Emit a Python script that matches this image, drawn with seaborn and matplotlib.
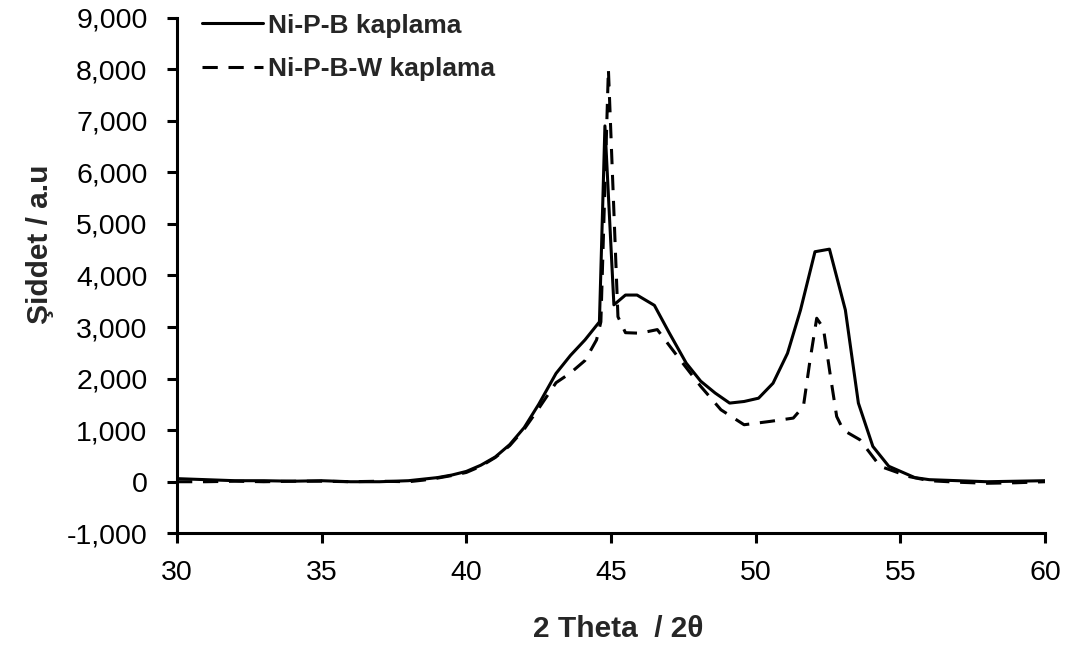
import matplotlib
matplotlib.use("Agg")
import matplotlib.pyplot as plt
import matplotlib.ticker as mticker
import numpy as np
import pandas as pd
import seaborn as sns

# ---- data ----
x_nipb = [30, 31, 32, 33, 34, 35, 36, 37, 38, 38.5, 39, 39.5, 40, 40.5, 41, 41.5, 42, 42.5,
          43.1, 43.6, 44.1, 44.6, 44.79, 45.1, 45.5, 45.9, 46.5, 47.0, 47.6, 48.1, 48.6,
          49.1, 49.6, 50.1, 50.6, 51.1, 51.55, 52.05, 52.55, 53.1, 53.55, 54.05, 54.6,
          55.5, 56, 57, 58, 59, 60]
y_nipb = [60, 40, 20, 20, 10, 20, 0, 0, 20, 50, 80, 130, 200, 320, 480, 720, 1050, 1500,
          2100, 2450, 2750, 3100, 6900, 3430, 3620, 3620, 3420, 2900, 2300, 1950, 1720,
          1525, 1556, 1620, 1910, 2490, 3330, 4460, 4510, 3330, 1525, 685, 300,
          80, 40, 20, 0, 10, 20]

x_nipbw = [30, 31, 32, 33, 34, 35, 36, 37, 38, 38.5, 39, 39.5, 40, 40.5, 41, 41.5, 42, 42.5,
           43.1, 43.6, 44.1, 44.5, 44.65, 44.91, 45.24, 45.5, 46.0, 46.6, 47.3, 48.1, 48.8,
           49.6, 50.5, 51.3, 51.65, 51.88, 52.11, 52.34, 52.57, 52.8, 53.03, 53.6, 54.3,
           55.3, 56, 57, 58, 59, 60]
y_nipbw = [0, 0, 10, 0, 10, 10, 0, 10, 0, 30, 70, 120, 180, 300, 470, 700, 1020, 1420,
           1920, 2110, 2350, 2750, 3100, 8000, 3200, 2890, 2880, 2950, 2430, 1850, 1395,
           1105, 1170, 1234, 1460, 2360, 3170, 2980, 2100, 1265, 1000, 815, 300,
           100, 20, -10, -30, -20, 0]

series_names = ["Ni-P-B kaplama", "Ni-P-B-W kaplama"]
x_ticks = [30, 35, 40, 45, 50, 55, 60]
y_ticks = list(range(-1000, 9001, 1000))

df = pd.concat([
    pd.DataFrame({"theta": x_nipb, "intensity": y_nipb, "series": series_names[0]}),
    pd.DataFrame({"theta": x_nipbw, "intensity": y_nipbw, "series": series_names[1]}),
], ignore_index=True)

sns.set_style("ticks")
plt.rcParams["font.family"] = ["Liberation Sans", "DejaVu Sans"]
plt.rcParams["axes.unicode_minus"] = False

fig = plt.figure(figsize=(10.75, 6.55), dpi=100)
ax = fig.add_axes([177 / 1075, 1 - 533.3 / 655, (1045 - 177) / 1075, (533.3 - 17.6) / 655])

sns.lineplot(data=df, x="theta", y="intensity", hue="series", style="series",
             palette={series_names[0]: "black", series_names[1]: "black"},
             dashes={series_names[0]: "", series_names[1]: (5, 3.5)},
             estimator=None, sort=False, linewidth=2.2, ax=ax)

ax.set_xlim(30, 60)
ax.set_ylim(-1000, 9000)
ax.set_xticks(x_ticks)
ax.set_yticks(y_ticks)
ax.yaxis.set_major_formatter(mticker.StrMethodFormatter("{x:,.0f}"))

for side in ["top", "right"]:
    ax.spines[side].set_visible(False)
for side in ["left", "bottom"]:
    ax.spines[side].set_linewidth(2.2)
    ax.spines[side].set_color("black")

ax.tick_params(axis="both", direction="out", length=7.2, width=2.2, labelsize=20.5,
               colors="black")
ax.tick_params(axis="y", pad=14)
ax.tick_params(axis="x", pad=12)

ax.set_xlabel("2 Theta  / 2θ", fontsize=21.5, fontweight="bold")
ax.set_ylabel("Şiddet / a.u", fontsize=21.5, fontweight="bold")
ax.xaxis.set_label_coords(0.508, -0.1586)
ax.yaxis.set_label_coords(-0.142, 0.561)

leg = ax.legend(loc="upper left", bbox_to_anchor=(202 / 1075, 1 - 13.5 / 655),
                bbox_transform=fig.transFigure, frameon=False, fontsize=19,
                handlelength=2.3, handletextpad=0.2, labelspacing=0.73,
                borderpad=0, borderaxespad=0)
for t in leg.get_texts():
    t.set_fontweight("bold")
for ln in leg.get_lines():
    ln.set_linewidth(2.2)

fig.savefig("out.png", dpi=100, facecolor="white")
